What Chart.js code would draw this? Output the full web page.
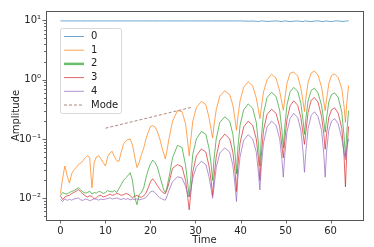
<!DOCTYPE html>
<html>
<head>
<meta charset="utf-8">
<script src="https://cdn.jsdelivr.net/npm/chart.js@4.4.1/dist/chart.umd.min.js"></script>
<style>
  body { margin: 0; background: #fff; }
  canvas { display: block; }
</style>
</head>
<body>
<canvas id="amp" width="374" height="247"></canvas>
<script>
// sample times (shared by all series)
const time = [
  0, 0.5, 1, 1.5, 2, 2.5, 3, 3.5, 4, 4.5, 5, 5.5, 6, 6.5, 7, 7.5, 8, 8.5, 9, 9.5,
  10, 10.5, 11, 11.5, 12, 12.5, 13, 13.5, 14, 14.5, 15, 15.5, 16, 16.5, 17, 17.5,
  18, 18.5, 19, 19.5, 20, 20.5, 21, 21.5, 22, 22.5, 23,
  23.3, 23.6, 24.1, 24.9, 26.0, 27.0, 27.8, 28.3, 28.6,
  28.9, 29.4, 30.2, 31.3, 32.3, 33.0, 33.5, 33.8,
  34.1, 34.6, 35.4, 36.5, 37.6, 38.3, 38.8, 39.1,
  39.4, 39.9, 40.7, 41.7, 42.7, 43.5, 44.0, 44.3,
  44.6, 45.1, 45.9, 46.9, 47.9, 48.7, 49.2, 49.5,
  49.8, 50.3, 51.0, 51.8, 52.7, 53.4, 53.9, 54.2,
  54.5, 55.0, 55.7, 56.4, 57.2, 58.0, 58.5, 58.8,
  59.1, 59.6, 60.2, 60.9, 61.7, 62.5, 63.0, 63.3,
  63.6, 64.0
];

const amp0 = [
  9.8, 9.8, 9.8, 9.8, 9.8, 9.8, 9.8, 9.8, 9.8, 9.8, 9.8, 9.8, 9.8, 9.8, 9.8, 9.8, 9.8, 9.8, 9.8, 9.8,
  9.8, 9.8, 9.8, 9.8, 9.8, 9.8, 9.8, 9.8, 9.8, 9.8, 9.8, 9.8, 9.8, 9.8, 9.8, 9.8,
  9.8, 9.8, 9.8, 9.8, 9.8, 9.8, 9.8, 9.8, 9.8, 9.8, 9.8,
  9.8, 9.8, 9.8, 9.8, 9.8, 9.8, 9.8, 9.8, 9.8,
  9.8, 9.8, 9.8, 9.8, 9.8, 9.8, 9.8, 9.8,
  9.8, 9.8, 9.8, 9.8, 9.8, 9.8, 9.8, 9.8,
  9.8, 9.8, 9.75, 9.7, 9.75, 9.65, 9.55, 9.7,
  9.8, 9.75, 9.6, 9.7, 9.8, 9.65, 9.55, 9.7,
  9.8, 9.7, 9.55, 9.7, 9.8, 9.6, 9.55, 9.75,
  9.8, 9.65, 9.55, 9.75, 9.8, 9.6, 9.55, 9.75,
  9.8, 9.65, 9.55, 9.75, 9.8, 9.6, 9.6, 9.75,
  9.8, 9.8
];

const amp1 = [
  0.012, 0.022, 0.035, 0.024, 0.018, 0.026, 0.03, 0.033, 0.037, 0.039, 0.043, 0.048, 0.052, 0.049, 0.015, 0.04, 0.05, 0.052, 0.046, 0.04,
  0.035, 0.05, 0.058, 0.062, 0.05, 0.043, 0.042, 0.06, 0.081, 0.092, 0.098, 0.1, 0.08, 0.05, 0.033, 0.04,
  0.055, 0.07, 0.1, 0.13, 0.162, 0.168, 0.16, 0.135, 0.105, 0.075, 0.055,
  0.046, 0.06, 0.1, 0.2, 0.3, 0.29, 0.18, 0.085, 0.052,
  0.09, 0.2, 0.34, 0.43, 0.38, 0.23, 0.14, 0.104,
  0.17, 0.31, 0.53, 0.65, 0.56, 0.37, 0.21, 0.14,
  0.23, 0.44, 0.75, 0.92, 0.79, 0.49, 0.3, 0.22,
  0.33, 0.62, 1.0, 1.23, 1.06, 0.64, 0.4, 0.305,
  0.45, 0.85, 1.28, 1.35, 1.15, 0.72, 0.42, 0.29,
  0.48, 0.9, 1.3, 1.4, 1.2, 0.75, 0.42, 0.3,
  0.46, 0.85, 1.18, 1.25, 1.08, 0.7, 0.35, 0.19,
  0.4, 0.8
];

const amp2 = [
  0.011, 0.0125, 0.012, 0.0118, 0.0125, 0.013, 0.0135, 0.0142, 0.015, 0.0138, 0.0128, 0.0122, 0.0125, 0.0132, 0.0118, 0.0125, 0.0122, 0.013, 0.0128, 0.012,
  0.0125, 0.0135, 0.013, 0.0128, 0.0135, 0.0125, 0.0145, 0.017, 0.02, 0.022, 0.024, 0.027, 0.02, 0.0105, 0.0078, 0.0115,
  0.0125, 0.015, 0.022, 0.03, 0.038, 0.044, 0.04, 0.034, 0.025, 0.018, 0.0135,
  0.0125, 0.0145, 0.022, 0.048, 0.078, 0.072, 0.036, 0.017, 0.0106,
  0.02, 0.055, 0.1, 0.134, 0.12, 0.07, 0.036, 0.02,
  0.045, 0.1, 0.19, 0.237, 0.2, 0.12, 0.055, 0.026,
  0.07, 0.17, 0.31, 0.39, 0.33, 0.19, 0.08, 0.035,
  0.1, 0.27, 0.5, 0.61, 0.52, 0.3, 0.14, 0.07,
  0.15, 0.37, 0.62, 0.74, 0.64, 0.4, 0.2, 0.12,
  0.22, 0.44, 0.66, 0.72, 0.6, 0.37, 0.2, 0.13,
  0.22, 0.42, 0.56, 0.6, 0.5, 0.28, 0.11, 0.05,
  0.13, 0.3
];

const amp3 = [
  0.011, 0.0095, 0.0105, 0.011, 0.0112, 0.012, 0.0125, 0.0132, 0.014, 0.0128, 0.0118, 0.011, 0.0105, 0.011, 0.0108, 0.0098, 0.0102, 0.011, 0.0112, 0.0105,
  0.0108, 0.0112, 0.0118, 0.0112, 0.0115, 0.012, 0.0118, 0.0112, 0.0115, 0.012, 0.0118, 0.011, 0.0102, 0.0108, 0.0112, 0.0106,
  0.0104, 0.011, 0.0122, 0.015, 0.019, 0.0213, 0.019, 0.0165, 0.0145, 0.013, 0.0122,
  0.012, 0.0135, 0.018, 0.032, 0.037, 0.034, 0.02, 0.01, 0.0064,
  0.011, 0.028, 0.052, 0.068, 0.06, 0.035, 0.019, 0.011,
  0.022, 0.05, 0.095, 0.121, 0.1, 0.06, 0.027, 0.013,
  0.035, 0.085, 0.16, 0.2, 0.17, 0.1, 0.045, 0.02,
  0.05, 0.14, 0.26, 0.317, 0.27, 0.16, 0.075, 0.048,
  0.09, 0.21, 0.36, 0.44, 0.37, 0.23, 0.12, 0.081,
  0.13, 0.28, 0.45, 0.5, 0.42, 0.24, 0.12, 0.067,
  0.12, 0.23, 0.31, 0.334, 0.27, 0.15, 0.05, 0.0155,
  0.06, 0.163
];

const amp4 = [
  0.0095, 0.0088, 0.0098, 0.0092, 0.0096, 0.0093, 0.0097, 0.0099, 0.0101, 0.0094, 0.0092, 0.0097, 0.0095, 0.0091, 0.0094, 0.0098, 0.0096, 0.0093, 0.0097, 0.0095,
  0.0097, 0.0099, 0.0102, 0.0097, 0.0099, 0.0101, 0.0098, 0.0095, 0.0099, 0.0096, 0.0099, 0.0094, 0.0097, 0.0095, 0.0098, 0.0094,
  0.0096, 0.0099, 0.0103, 0.0115, 0.0128, 0.0132, 0.0125, 0.0112, 0.0103, 0.0098, 0.0094,
  0.0093, 0.0105, 0.0135, 0.019, 0.023, 0.022, 0.016, 0.0115, 0.0105,
  0.013, 0.022, 0.034, 0.042, 0.037, 0.023, 0.014, 0.01,
  0.015, 0.033, 0.058, 0.071, 0.06, 0.036, 0.016, 0.0088,
  0.022, 0.05, 0.095, 0.118, 0.1, 0.06, 0.026, 0.0138,
  0.033, 0.085, 0.16, 0.2, 0.17, 0.1, 0.045, 0.0227,
  0.05, 0.13, 0.22, 0.27, 0.23, 0.14, 0.06, 0.0274,
  0.06, 0.15, 0.25, 0.288, 0.24, 0.14, 0.055, 0.0227,
  0.06, 0.14, 0.2, 0.22, 0.18, 0.1, 0.06, 0.045,
  0.07, 0.1
];

// dashed "Mode" reference line
const modeTime = [10, 29.2];
const modeAmp = [0.152, 0.343];

const seriesLabels = ['0', '1', '2', '3', '4', 'Mode'];
const xTickValues = [0, 10, 20, 30, 40, 50, 60];
const yTickValues = [0.01, 0.1, 1, 10];
const yTickLabels = ['10\u207B\u00B2', '10\u207B\u00B9', '10\u2070', '10\u00B9'];

const colors = [
  'rgba(31,119,180,0.65)',
  'rgba(255,127,14,0.7)',
  'rgba(44,160,44,0.7)',
  'rgba(214,39,40,0.7)',
  'rgba(148,103,189,0.7)',
  'rgba(140,86,75,0.7)'
];

const pts = (xs, ys) => xs.map((t, i) => ({ x: t, y: ys[i] }));

// minor log ticks 2..9 x 10^k
const yMinor = [];
[-3, -2, -1, 0, 1].forEach(k => {
  for (let m = 2; m <= 9; m++) yMinor.push(m * Math.pow(10, k));
});

const framePlugin = {
  id: 'framePlugin',
  afterDraw(chart) {
    const { ctx, chartArea: a, scales: { x, y } } = chart;
    ctx.save();
    ctx.strokeStyle = '#444';
    ctx.lineWidth = 0.8;
    ctx.beginPath();
    xTickValues.forEach(v => {
      const px = Math.round(x.getPixelForValue(v)) + 0.5;
      ctx.moveTo(px, a.bottom); ctx.lineTo(px, a.bottom + 3.5);
    });
    yTickValues.forEach(v => {
      const py = Math.round(y.getPixelForValue(v)) + 0.5;
      ctx.moveTo(a.left, py); ctx.lineTo(a.left - 3.5, py);
    });
    yMinor.forEach(v => {
      const py = y.getPixelForValue(v);
      if (py < a.top || py > a.bottom) return;
      ctx.moveTo(a.left, Math.round(py) + 0.5); ctx.lineTo(a.left - 2, Math.round(py) + 0.5);
    });
    ctx.stroke();

    ctx.strokeStyle = '#555';
    ctx.lineWidth = 1;
    ctx.strokeRect(Math.round(a.left) + 0.5, Math.round(a.top) + 0.5,
      Math.round(a.right - a.left), Math.round(a.bottom - a.top));

    // legend
    const lx = 60.5, ly = 28.5, lw = 61, lh = 85;
    ctx.fillStyle = 'rgba(255,255,255,0.8)';
    ctx.strokeStyle = '#d8d8d8';
    ctx.lineWidth = 1;
    ctx.beginPath();
    ctx.roundRect(lx, ly, lw, lh, 2);
    ctx.fill();
    ctx.stroke();
    ctx.font = '10px "DejaVu Sans"';
    ctx.textBaseline = 'middle';
    ctx.fillStyle = '#222';
    chart.data.datasets.forEach((ds, i) => {
      const ry = 36.5 + i * 13.7;
      ctx.strokeStyle = ds.borderColor;
      ctx.lineWidth = i === 2 ? 2.5 : 1;
      ctx.setLineDash(ds.borderDash || []);
      ctx.beginPath();
      ctx.moveTo(64, ry); ctx.lineTo(84, ry);
      ctx.stroke();
      ctx.setLineDash([]);
      ctx.fillText(ds.label, 91, ry);
    });
    ctx.restore();
  }
};

const seriesAmps = [amp0, amp1, amp2, amp3, amp4];
const datasets = seriesAmps.map((amp, i) => ({
  label: seriesLabels[i],
  data: pts(time, amp),
  borderColor: colors[i],
  borderWidth: 1,
  pointRadius: 0,
  tension: 0,
  order: 6 - i
}));
datasets.push({
  label: seriesLabels[5],
  data: pts(modeTime, modeAmp),
  borderColor: colors[5],
  borderWidth: 1,
  borderDash: [3, 2],
  pointRadius: 0,
  order: 0
});

Chart.defaults.font.family = '"DejaVu Sans", sans-serif';
Chart.defaults.font.size = 10;
Chart.defaults.color = '#262626';

new Chart(document.getElementById('amp'), {
  type: 'line',
  data: { datasets },
  plugins: [framePlugin],
  options: {
    responsive: false,
    animation: false,
    devicePixelRatio: 1,
    layout: { padding: { top: 7, right: 11, left: 0, bottom: 0 } },
    plugins: { legend: { display: false }, tooltip: { enabled: false } },
    scales: {
      x: {
        type: 'linear',
        min: -3.2,
        max: 67.2,
        grid: { display: false, drawTicks: false },
        border: { display: false },
        afterBuildTicks: s => { s.ticks = xTickValues.map(v => ({ value: v })); },
        afterFit: s => { s.height = 27; },
        ticks: { autoSkip: false, maxRotation: 0, padding: 5 },
        title: { display: true, text: 'Time', padding: { top: 0, bottom: 1 } }
      },
      y: {
        type: 'logarithmic',
        min: 0.0043,
        max: 14.4,
        grid: { display: false, drawTicks: false },
        border: { display: false },
        afterBuildTicks: s => { s.ticks = yTickValues.map(v => ({ value: v })); },
        afterFit: s => { s.width = 46; },
        ticks: { autoSkip: false, padding: 5, callback: (v, i) => yTickLabels[i] },
        title: { display: true, text: 'Amplitude', padding: { top: 10, bottom: 0 } }
      }
    }
  }
});
</script>
</body>
</html>
